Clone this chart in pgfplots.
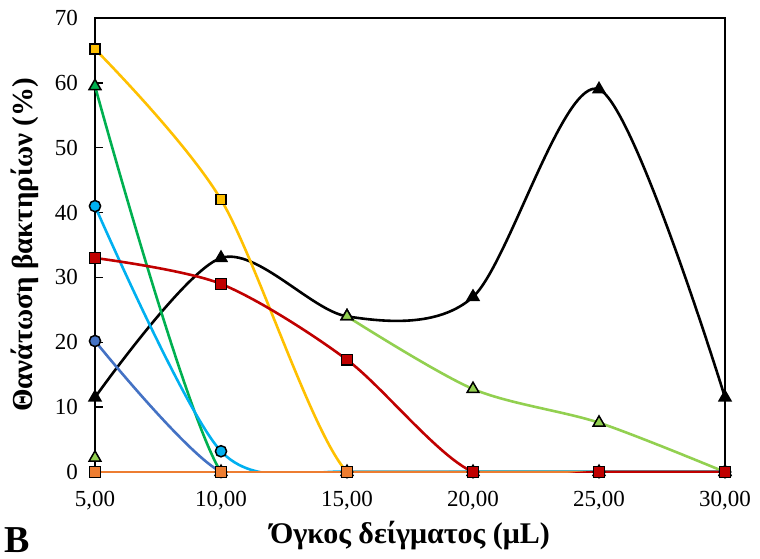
\documentclass[border=0pt]{standalone}
\usepackage{fontspec}
\setmainfont{Liberation Serif}
\usepackage{pgfplots}
\pgfplotsset{compat=1.18}

\definecolor{cgold}{HTML}{FFC000}
\definecolor{cgreen}{HTML}{00B050}
\definecolor{ccyan}{HTML}{00B0F0}
\definecolor{cblue}{HTML}{4472C4}
\definecolor{cred}{HTML}{C00000}
\definecolor{corange}{HTML}{ED7D31}
\definecolor{clime}{HTML}{92D050}

\pgfplotsset{
  ser/.style={smooth, line width=1.3pt, color=#1,
    mark options={solid, draw=black, fill=#1, line width=0.75pt}},
}

\begin{document}
\begin{tikzpicture}
\useasboundingbox (0,0) rectangle (380pt,279pt);
\begin{axis}[
  at={(47.5pt,43pt)}, anchor=south west,
  scale only axis, width=315pt, height=227pt,
  xmin=5, xmax=30, ymin=0, ymax=70,
  xtick={5,10,15,20,25,30},
  xticklabels={{5,00},{10,00},{15,00},{20,00},{25,00},{30,00}},
  ytick={0,10,...,70},
  ytick pos=left,
  tick align=inside,
  xtick style={draw=none},
  tick style={black, line width=0.75pt},
  major tick length=4pt,
  axis line style={line width=0.75pt},
  font=\fontsize{11.5}{13}\selectfont,
  /pgf/number format/assume math mode=true,
  yticklabel style={xshift=-5pt},
  xticklabel style={yshift=-6pt},
  xlabel={\bfseries Όγκος δείγματος (μL)},
  ylabel={\bfseries Θανάτωση βακτηρίων (\%)},
  label style={font=\fontsize{14.5}{16}\selectfont},
  xlabel style={at={(axis description cs:0.5,-0.139)}, anchor=center,
    font=\fontsize{15}{16}\selectfont},
  ylabel style={at={(axis description cs:-0.111,0.5)}, anchor=center},
]

% black
\addplot[ser=black, mark=triangle*, mark size=3.4pt] coordinates {
  (5,11.5) (10,33) (15,24) (20,27) (25,59) (30,11.5)
};
% lime
\addplot[ser=clime, mark=triangle*, mark size=3.4pt, only marks] coordinates {
  (5,2.2)
};
\addplot[ser=clime, mark=triangle*, mark size=3.4pt] coordinates {
  (15,24) (20,12.8) (25,7.6) (30,0)
};
% gold
\addplot[ser=cgold, mark=square*, mark size=2.5pt] coordinates {
  (5,65.2) (10,42) (15,0) (20,0) (25,0) (30,0)
};
% green
\addplot[ser=cgreen, mark=triangle*, mark size=3.4pt] coordinates {
  (5,59.5) (10,0) (15,0) (20,0) (25,0) (30,0)
};
% blue
\addplot[ser=cblue, mark=*, mark size=2.8pt] coordinates {
  (5,20.2) (10,0) (15,0) (20,0) (25,0) (30,0)
};
% cyan
\addplot[ser=ccyan, mark=*, mark size=2.8pt] coordinates {
  (5,41) (10,3.2) (15,0) (20,0) (25,0) (30,0)
};
% orange
\addplot[ser=corange, mark=square*, mark size=2.7pt] coordinates {
  (5,0) (10,0) (15,0) (20,0) (25,0) (30,0)
};
% red
\addplot[ser=cred, mark=square*, mark size=2.7pt] coordinates {
  (5,33) (10,29) (15,17.3) (20,0) (25,0) (30,0)
};
\end{axis}
\node[font=\bfseries\fontsize{19}{22}\selectfont] at (8.5pt,9pt) {B};
\end{tikzpicture}
\end{document}
